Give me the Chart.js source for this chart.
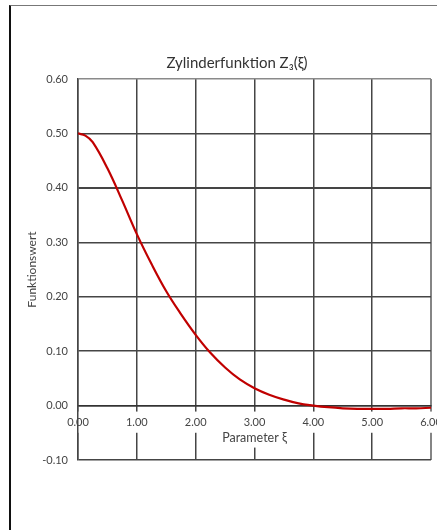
<!DOCTYPE html>
<html>
<head>
<meta charset="utf-8">
<script src="https://cdn.jsdelivr.net/npm/chart.js@4"></script>
<style>
  html, body { margin: 0; padding: 0; background: #fff; }
  #wrap { position: relative; width: 437px; height: 530px; }
  #frame { position: absolute; left: 9px; top: 5px; right: 0; bottom: 0;
           border-top: 1px solid #777; border-left: 2px solid #111; pointer-events: none; }
  canvas { position: absolute; left: 0; top: 0; }
</style>
</head>
<body>
<div id="wrap">
  <canvas id="zylinder" width="437" height="530"></canvas>
  <div id="frame"></div>
</div>
<script>
const chartTitle = "Zylinderfunktion Z\u2083(\u03BE)";
const xTitle = "Parameter \u03BE";
const yTitle = "Funktionswert";

// Parameter xi and function values
const xi = [0, 0.125, 0.25, 0.5, 0.75, 1.0, 1.25, 1.5, 1.75, 2.0, 2.25, 2.5, 2.75, 3.0,
            3.25, 3.5, 3.75, 4.0, 4.25, 4.5, 4.75, 5.0, 5.25, 5.5, 5.75, 6.0];
const zValues = [0.50, 0.496, 0.484, 0.436, 0.377, 0.315, 0.26, 0.21, 0.168, 0.13, 0.097, 0.07, 0.048, 0.032,
                 0.02, 0.011, 0.004, 0.0, -0.003, -0.005, -0.006, -0.006, -0.006, -0.005, -0.005, -0.004];

const xMin = 0, xMax = 6, xStep = 1;
const yMin = -0.1, yMax = 0.6, yStep = 0.1;

const fontFamily = "Lato, 'Open Sans', 'DejaVu Sans', sans-serif";

function fmt(v) {
  const r = Math.round(v * 100) / 100;
  return (r === 0 ? 0 : r).toFixed(2);
}

// chart title (slightly left of the plot centre) and x-axis title on a white patch
const titlesPlugin = {
  id: "titles",
  afterDraw(chart) {
    const ctx = chart.ctx;
    const ys = chart.scales.y;
    const area = chart.chartArea;
    ctx.save();
    ctx.textAlign = "center";
    ctx.textBaseline = "middle";

    ctx.font = "15px " + fontFamily;
    ctx.fillStyle = "#333";
    ctx.fillText(chartTitle, 237, area.top - 16);

    const cx = (area.left + area.right) / 2;
    const cy = ys.getPixelForValue(0) + 32;
    ctx.font = "12.5px " + fontFamily;
    const w = ctx.measureText(xTitle).width;
    ctx.fillStyle = "#fff";
    ctx.fillRect(cx - w / 2 - 3, cy - 10, w + 6, 20);
    ctx.fillStyle = "#444";
    ctx.fillText(xTitle, cx, cy);
    ctx.restore();
  }
};

const ctx = document.getElementById("zylinder").getContext("2d");
new Chart(ctx, {
  type: "line",
  data: {
    datasets: [
      {
        label: "Z3",
        data: xi.map((x, i) => ({ x: x, y: zValues[i] })),
        borderColor: "#c00000",
        borderWidth: 2.2,
        pointRadius: 0,
        tension: 0.4,
        fill: false,
      },
    ],
  },
  options: {
    responsive: false,
    animation: false,
    layout: { padding: { left: 0, top: 79, right: 6, bottom: 70 } },
    scales: {
      x: {
        type: "linear",
        position: { y: 0 },
        min: xMin,
        max: xMax,
        afterFit: (scale) => { scale.paddingLeft = 0; scale.paddingRight = 0; },
        ticks: {
          stepSize: xStep,
          padding: 10,
          color: "#444",
          font: { family: fontFamily, size: 11 },
          showLabelBackdrop: true,
          backdropColor: "#fff",
          backdropPadding: { top: 4, bottom: 4, left: 2, right: 2 },
          callback: (v) => fmt(v),
        },
        grid: {
          drawTicks: false,
          color: (c) => (c.tick && c.tick.value === xMax ? "#858585" : "#454545"),
          lineWidth: (c) => (c.tick && c.tick.value === xMax ? 2 : 1.5),
        },
        border: { display: true, color: "#333", width: 1.5 },
      },
      y: {
        min: yMin,
        max: yMax,
        afterFit: (scale) => { scale.width = 78; scale.paddingTop = 0; },
        ticks: {
          stepSize: yStep,
          padding: 10,
          color: "#444",
          font: { family: fontFamily, size: 11 },
          callback: (v) => fmt(v),
        },
        grid: {
          drawTicks: false,
          color: (c) => (c.tick && Math.abs(c.tick.value - yMax) < 1e-9 ? "#8a8a8a" : "#454545"),
          lineWidth: (c) => (c.tick && Math.abs(c.tick.value - 0.4) < 1e-9 ? 2 : 1.5),
        },
        border: { display: true, color: "#454545", width: 1.5 },
        title: {
          display: true,
          text: yTitle,
          color: "#444",
          font: { family: fontFamily, size: 12 },
          padding: { top: 25, bottom: 0 },
        },
      },
    },
    plugins: {
      legend: { display: false },
      tooltip: { enabled: false },
      title: { display: false },
    },
  },
  plugins: [titlesPlugin],
});
</script>
</body>
</html>
